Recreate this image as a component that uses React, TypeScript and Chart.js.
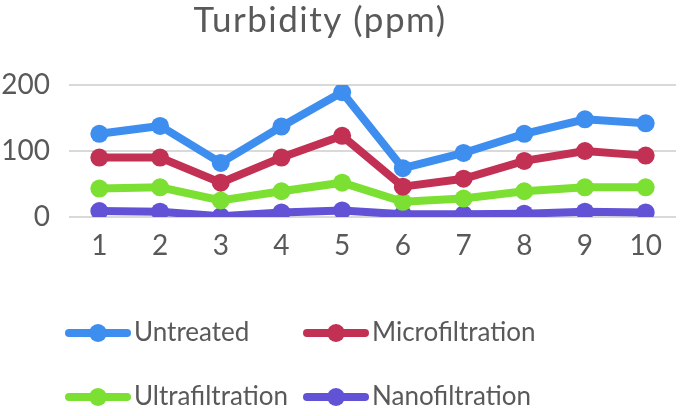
import React, { useEffect, useRef } from "react";
import { Chart, registerables } from "chart.js";

Chart.register(...registerables);

const categories = ["1", "2", "3", "4", "5", "6", "7", "8", "9", "10"];
const untreated = [126, 138, 82, 137, 189, 74, 97, 126, 148, 142];
const microfiltration = [90, 90, 52, 90, 123, 46, 58, 85, 100, 93];
const ultrafiltration = [43, 45, 25, 39, 52, 23, 28, 39, 45, 45];
const nanofiltration = [9, 8, 1, 7, 10, 4, 4, 5, 8, 7];
const seriesNames = ["Untreated", "Microfiltration", "Ultrafiltration", "Nanofiltration"];
const seriesColors = ["#3E8EF0", "#C23053", "#7BE032", "#6152D6"];
const titleText = "Turbidity (ppm)";

const FONT = "Lato";
const TEXT_COLOR = "#595959";

const customPlugin = {
  id: "customDecor",
  afterDraw(chart: any) {
    const ctx = chart.ctx;
    ctx.save();
    ctx.fillStyle = TEXT_COLOR;
    ctx.font = `35px ${FONT}`;
    try { (ctx as any).letterSpacing = "1.5px"; } catch (e) {}
    ctx.textAlign = "center";
    ctx.textBaseline = "middle";
    ctx.fillText(titleText, 320, 21);
    try { (ctx as any).letterSpacing = "0px"; } catch (e) {}
    const cols = [65, 303];
    const rows = [333, 397];
    chart.data.datasets.forEach((ds: any, i: number) => {
      const x = cols[i % 2];
      const y = rows[Math.floor(i / 2)];
      ctx.strokeStyle = ds.borderColor;
      ctx.lineWidth = 8;
      ctx.lineCap = "round";
      ctx.beginPath();
      ctx.moveTo(x + 4, y);
      ctx.lineTo(x + 62, y);
      ctx.stroke();
      ctx.fillStyle = ds.borderColor;
      ctx.beginPath();
      ctx.arc(x + 33, y, 9, 0, Math.PI * 2);
      ctx.fill();
      ctx.fillStyle = TEXT_COLOR;
      ctx.font = `26px ${FONT}`;
      ctx.textAlign = "left";
      ctx.fillText(ds.label, x + 69, y);
    });
    ctx.restore();
  },
};

export default function App() {
  const ref = useRef<HTMLCanvasElement>(null);
  useEffect(() => {
    const datasets = [untreated, microfiltration, ultrafiltration, nanofiltration].map((d, i) => ({
      label: seriesNames[i],
      data: d,
      borderColor: seriesColors[i],
      backgroundColor: seriesColors[i],
      borderWidth: 8,
      pointRadius: 9,
      pointHoverRadius: 9,
      pointBorderWidth: 0,
      tension: 0,
    }));
    const chart = new Chart(ref.current!, {
      type: "line",
      data: { labels: categories, datasets },
      options: {
        animation: false,
        responsive: false,
        maintainAspectRatio: false,
        layout: { padding: { left: 0, right: 5, top: 85, bottom: 159 } },
        plugins: { legend: { display: false }, title: { display: false }, tooltip: { enabled: false } },
        scales: {
          x: {
            offset: true,
            grid: { display: false },
            border: { display: false },
            ticks: { color: TEXT_COLOR, font: { family: FONT, size: 28 }, padding: 4 },
            afterFit: (s: any) => { s.height = 40; },
          },
          y: {
            min: 0,
            max: 200,
            grid: { color: "#D9D9D9", lineWidth: 2, drawTicks: false },
            border: { display: false },
            ticks: { stepSize: 100, color: TEXT_COLOR, font: { family: FONT, size: 28 }, padding: 19 },
            afterFit: (s: any) => { s.width = 69; },
          },
        },
      },
      plugins: [customPlugin],
    });
    return () => chart.destroy();
  }, []);
  return (
    <div style={{ position: "fixed", left: 0, top: 0, width: 685, height: 416, background: "#fff" }}>
      <canvas ref={ref} width={685} height={416} />
    </div>
  );
}
